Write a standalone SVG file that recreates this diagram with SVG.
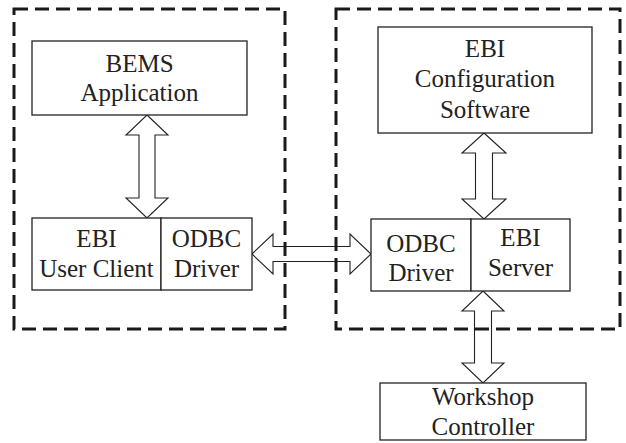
<svg xmlns="http://www.w3.org/2000/svg" width="626" height="443" viewBox="0 0 626 443">
<style>
.box{fill:#fff;stroke:#222;stroke-width:1.3}
.arr{fill:#fff;stroke:#222;stroke-width:1.1;stroke-linejoin:miter}
.grp{fill:none;stroke:#1a1a1a;stroke-width:3;stroke-dasharray:14 7}
</style>
<rect width="626" height="443" fill="#fff"/>
<g id="connectors">
<polygon class="arr" points="147,115 168,135 155,135 155,198 168,198 147,218 126,198 139,198 139,135 126,135"/>
<polygon class="arr" points="484,133 506,153 492.5,153 492.5,199 506,199 484,219 462,199 475.5,199 475.5,153 462,153"/>
<polygon class="arr" points="483,291 504,311 491.5,311 491.5,363 504,363 483,383 462,363 474.5,363 474.5,311 462,311"/>
<polygon class="arr" points="252,254 273,234 273,246.5 350,246.5 350,234 371,254 350,274 350,261.5 273,261.5 273,274"/>
</g>
<g id="client-side"><rect class="grp" x="14" y="9" width="271" height="320"/></g>
<g id="server-side"><rect class="grp" x="336" y="9" width="284" height="320"/></g>
<g id="nodes" font-family="Liberation Serif, Times New Roman, Times, DejaVu Serif, Noto Serif, serif" font-size="25" fill="#222" text-anchor="middle">
<g id="bems">
<rect class="box" x="32" y="41" width="215" height="74"/>
<text x="139.5" y="72">BEMS</text>
<text x="139.5" y="101">Application</text>
</g>
<g id="ebi-user-client">
<rect class="box" x="32" y="218" width="129" height="72"/>
<text x="96.5" y="247">EBI</text>
<text x="96.5" y="277">User Client</text>
</g>
<g id="odbc-left">
<rect class="box" x="161" y="218" width="91" height="72"/>
<text x="206.5" y="247">ODBC</text>
<text x="206.5" y="277">Driver</text>
</g>
<g id="ebi-config">
<rect class="box" x="378" y="27" width="214" height="106"/>
<text x="485" y="57">EBI</text>
<text x="485" y="87">Configuration</text>
<text x="485" y="118">Software</text>
</g>
<g id="odbc-right">
<rect class="box" x="371" y="219" width="100" height="72"/>
<text x="421" y="252">ODBC</text>
<text x="421" y="281">Driver</text>
</g>
<g id="ebi-server">
<rect class="box" x="471" y="219" width="99" height="72"/>
<text x="520.5" y="246">EBI</text>
<text x="520.5" y="276">Server</text>
</g>
<g id="workshop">
<rect class="box" x="380" y="383" width="206" height="57"/>
<text x="483" y="405">Workshop</text>
<text x="483" y="435">Controller</text>
</g>
</g>
</svg>
